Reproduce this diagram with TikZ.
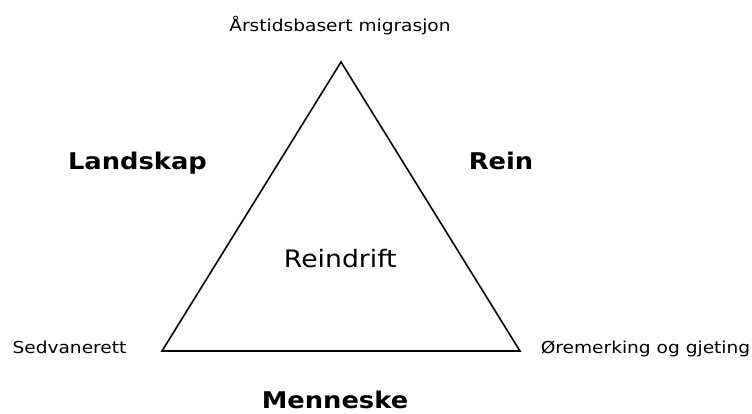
\documentclass[tikz,border=0pt]{standalone}
\usepackage{fontspec}
\setmainfont{DejaVu Sans}
% text set slightly wider than the font's natural proportions
\newcommand{\widetext}[2]{\scalebox{#1}[1]{#2}}
\begin{document}
\begin{tikzpicture}[x=1pt,y=-1pt,
  small/.style={font=\fontsize{16.5}{19}\selectfont, inner sep=0pt, anchor=base},
  corner/.style={font=\bfseries\fontsize{23}{27}\selectfont, inner sep=0pt, anchor=base},
  centre/.style={font=\fontsize{24}{28}\selectfont, inner sep=0pt, anchor=base}]
\useasboundingbox (0,0) rectangle (752,413);
% triangle vertices
\coordinate (top) at (341,62);
\coordinate (bl) at (162,351);
\coordinate (br) at (520,351);
\draw[line width=1.6pt, line join=miter] (top) -- (br) -- (bl) -- cycle;
% vertex labels
\node[small] (migr) at (340,31.5) {\widetext{1.127}{Årstidsbasert migrasjon}};
\node[small] (sedv) at (69.5,353.5) {\widetext{1.127}{Sedvanerett}};
\node[small] (ore) at (645.5,353.5) {\widetext{1.127}{Øremerking og gjeting}};
% side labels
\node[corner] (land) at (137.5,169.3) {\widetext{1.12}{Landskap}};
\node[corner] (rein) at (501,169.3) {\widetext{1.12}{Rein}};
\node[corner, text depth=0pt] (menn) at (335,408.5) {\widetext{1.12}{Menneske}};
% centre label
\node[centre] (mid) at (340.3,267.3) {\widetext{1.11}{Reindrift}};
\end{tikzpicture}
\end{document}
